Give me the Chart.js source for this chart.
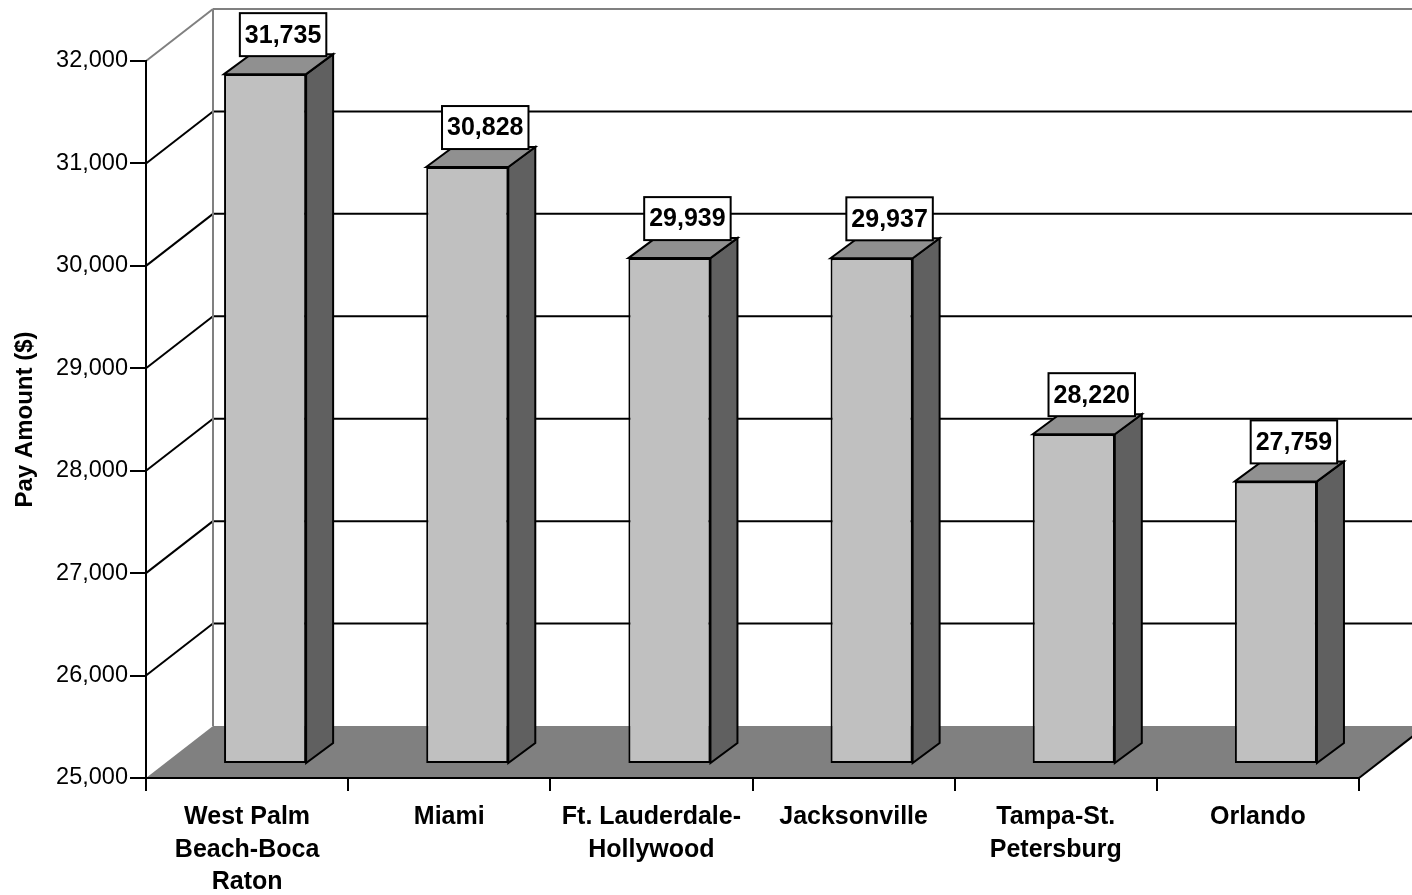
<!DOCTYPE html>
<html>
<head>
<meta charset="utf-8">
<script src="https://cdn.jsdelivr.net/npm/chart.js@4.4.1/dist/chart.umd.min.js"></script>
<style>
  html, body { margin: 0; padding: 0; background: #ffffff; }
  #wrap { width: 1412px; height: 895px; }
</style>
</head>
<body>
<div id="wrap"><canvas id="payChart" width="1412" height="895"></canvas></div>
<script>
// data
const cities = [['West Palm', 'Beach-Boca', 'Raton'], 'Miami', ['Ft. Lauderdale-', 'Hollywood'], 'Jacksonville', ['Tampa-St.', 'Petersburg'], 'Orlando'];
const payAmounts = [31735, 30828, 29939, 29937, 28220, 27759];
const yMin = 25000;
const yMax = 32000;
const yStep = 1000;

const FONT = '"Liberation Sans", Arial, sans-serif';

// 3d look: wall depth, where the bars sit in the floor, and bar depth
const wallDX = 67, wallDY = -52;
const barShiftX = 18, barShiftY = -14;
const barDX = 27, barDY = -20;

function poly(ctx, pts, fill, stroke, lw) {
  ctx.beginPath();
  ctx.moveTo(pts[0][0], pts[0][1]);
  for (let i = 1; i < pts.length; i++) ctx.lineTo(pts[i][0], pts[i][1]);
  ctx.closePath();
  if (fill) { ctx.fillStyle = fill; ctx.fill(); }
  if (stroke) { ctx.strokeStyle = stroke; ctx.lineWidth = lw || 2; ctx.stroke(); }
}

function line(ctx, x1, y1, x2, y2, color) {
  ctx.beginPath();
  ctx.moveTo(x1, y1);
  ctx.lineTo(x2, y2);
  ctx.strokeStyle = color;
  ctx.lineWidth = 2;
  ctx.stroke();
}

// back wall, gridlines and floor, drawn under the axes
const wallPlugin = {
  id: 'wall3d',
  beforeDraw(chart) {
    const ctx = chart.ctx;
    const y = chart.scales.y;
    const area = chart.chartArea;
    const W = chart.width;
    ctx.save();
    ctx.lineCap = 'butt';
    for (let v = yMin + yStep; v < yMax; v += yStep) {
      const py = y.getPixelForValue(v);
      line(ctx, area.left, py, area.left + wallDX, py + wallDY, '#000000');
      line(ctx, area.left + wallDX, py + wallDY, W, py + wallDY, '#000000');
    }
    const top = y.getPixelForValue(yMax);
    const bot = y.getPixelForValue(yMin);
    line(ctx, area.left, top, area.left + wallDX, top + wallDY, '#808080');
    line(ctx, area.left + wallDX, top + wallDY, W, top + wallDY, '#808080');
    line(ctx, area.left + wallDX, top + wallDY, area.left + wallDX, bot + wallDY, '#808080');
    // floor
    poly(ctx, [[area.left, bot], [area.right, bot], [area.right + wallDX, bot + wallDY], [area.left + wallDX, bot + wallDY]], '#808080');
    line(ctx, area.right, bot, area.right + wallDX, bot + wallDY, '#000000');
    ctx.restore();
  },
  // front faces are drawn by chart.js, pushed back into the floor
  beforeDatasetDraw(chart) {
    chart.ctx.save();
    chart.ctx.translate(barShiftX, barShiftY);
  },
  afterDatasetDraw(chart) {
    chart.ctx.restore();
  },
  afterDatasetsDraw(chart) {
    const ctx = chart.ctx;
    const meta = chart.getDatasetMeta(0);
    ctx.save();
    ctx.lineJoin = 'miter';
    meta.data.forEach((bar, i) => {
      const p = bar.getProps(['x', 'y', 'base', 'width'], true);
      const l = p.x - p.width / 2 + barShiftX;
      const r = p.x + p.width / 2 + barShiftX;
      const t = p.y + barShiftY;
      const b = p.base + barShiftY;
      // side face
      poly(ctx, [[r, t], [r + barDX, t + barDY], [r + barDX, b + barDY], [r, b]], '#606060', '#000000', 2);
      // top face
      poly(ctx, [[l, t], [l + barDX, t + barDY], [r + barDX, t + barDY], [r, t]], '#909090', '#000000', 2);

      // value label box
      const txt = payAmounts[i].toLocaleString('en-US');
      ctx.font = 'bold 25px ' + FONT;
      const tw = ctx.measureText(txt).width;
      const bw = tw + 10, bh = 43;
      const cx = p.x + barShiftX + 18;
      const bb = t - 18;
      ctx.fillStyle = '#ffffff';
      ctx.fillRect(cx - bw / 2, bb - bh, bw, bh);
      ctx.strokeStyle = '#000000';
      ctx.lineWidth = 2;
      ctx.strokeRect(cx - bw / 2, bb - bh, bw, bh);
      ctx.fillStyle = '#000000';
      ctx.textAlign = 'center';
      ctx.textBaseline = 'middle';
      ctx.fillText(txt, cx, bb - bh / 2 + 1);
    });
    ctx.restore();
  }
};

const config = {
  type: 'bar',
  data: {
    labels: cities,
    datasets: [{
      label: 'Pay Amount',
      data: payAmounts,
      base: yMin,
      backgroundColor: '#c0c0c0',
      borderColor: '#000000',
      borderWidth: 2,
      borderSkipped: false,
      categoryPercentage: 1,
      barPercentage: 0.406
    }]
  },
  options: {
    responsive: false,
    animation: false,
    devicePixelRatio: 1,
    layout: { padding: { top: 61, right: 53, left: 0, bottom: 0 } },
    plugins: {
      legend: { display: false },
      tooltip: { enabled: false }
    },
    scales: {
      x: {
        grid: { display: true, drawOnChartArea: false, drawTicks: true, tickLength: 13, color: '#000000', lineWidth: 2, offset: true },
        border: { display: true, color: '#000000', width: 2 },
        ticks: {
          color: '#000000',
          padding: 10,
          maxRotation: 0,
          autoSkip: false,
          font: { family: FONT, size: 25, weight: 'bold', lineHeight: 1.3 }
        },
        afterFit(scale) { scale.height = 895 - 778; }
      },
      y: {
        min: yMin,
        max: yMax,
        grid: { display: true, drawOnChartArea: false, drawTicks: true, tickLength: 16, color: '#000000', lineWidth: 2 },
        border: { display: true, color: '#000000', width: 2 },
        ticks: {
          stepSize: yStep,
          color: '#000000',
          padding: 2,
          font: { family: FONT, size: 23.5 },
          callback: v => v.toLocaleString('en-US')
        },
        title: {
          display: true,
          text: 'Pay Amount ($)',
          color: '#000000',
          padding: { top: 11, bottom: 0 },
          font: { family: FONT, size: 24, weight: 'bold' }
        },
        afterFit(scale) { scale.width = 146; }
      }
    }
  },
  plugins: [wallPlugin]
};

const payChart = new Chart(document.getElementById('payChart'), config);
</script>
</body>
</html>
